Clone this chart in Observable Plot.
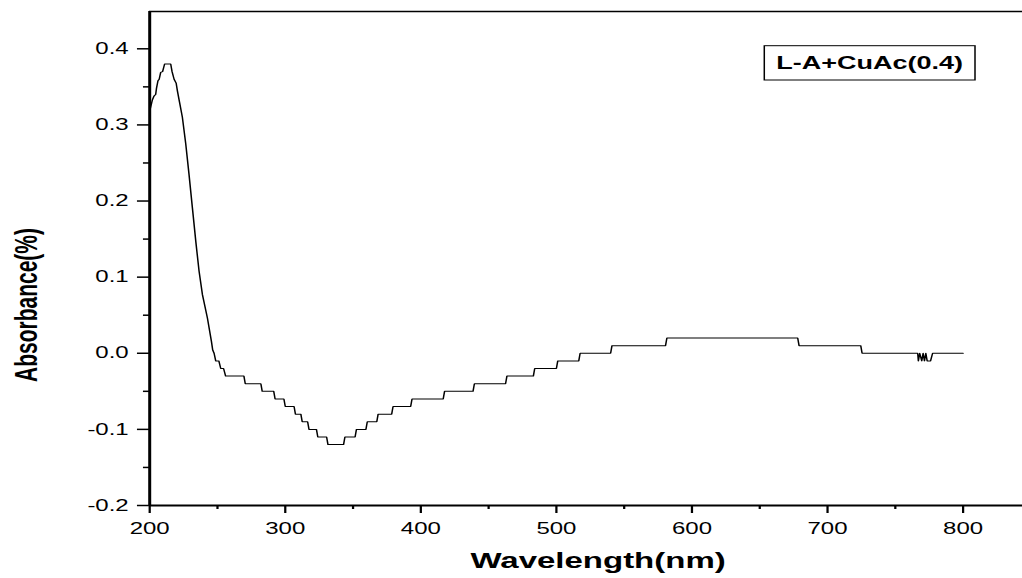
<!DOCTYPE html>
<html>
<head>
<meta charset="utf-8">
<script src="https://cdn.jsdelivr.net/npm/d3@7"></script>
<script src="https://cdn.jsdelivr.net/npm/@observablehq/plot@0.6"></script>
<style>
  html, body { margin: 0; padding: 0; background: white; }
  #chart svg { display: block; }
</style>
</head>
<body>
<div id="chart"></div>
<script>
// ---- data ----
const wavelength = [
  200, 202, 203.2, 204.4, 205, 206.1, 207, 208.1, 209.5, 211, 215.5, 216.5, 218, 219.5, 220.4, 222, 224.1,
  226.6, 229, 231.5, 234, 236.4, 238.9, 242.6, 245.5, 246.5, 247.5, 248.7, 251, 252.4, 254.5, 256,
  269.5, 270.5, 282, 283, 291.5, 292.5, 299, 300, 306.5, 307.5, 311.5, 312.5, 316.5, 317.5,
  323, 324, 330.5, 331.5, 343, 344, 351.5, 352.5, 359.5, 360.5, 367.5, 368.5, 378.5, 379.5,
  392.5, 393.5, 416.5, 417.5, 438.5, 439.5, 462.5, 463.5, 483, 484, 500, 501, 516.5, 517.5,
  540, 541, 580.5, 581.5, 678, 679, 724.5, 725.5, 766.5, 767, 768, 769.5, 770.5, 771.5, 772.5,
  773.5, 776, 777.5, 800
];
const absorbance = [
  0.318, 0.333, 0.338, 0.340, 0.348, 0.358, 0.360, 0.369, 0.370, 0.380, 0.380, 0.370, 0.360, 0.355, 0.345, 0.330, 0.310,
  0.275, 0.235, 0.191, 0.147, 0.108, 0.077, 0.046, 0.016, 0.004, 0.0, -0.01, -0.01, -0.02, -0.02, -0.03,
  -0.03, -0.04, -0.04, -0.05, -0.05, -0.06, -0.06, -0.07, -0.07, -0.08, -0.08, -0.09, -0.09, -0.10,
  -0.10, -0.11, -0.11, -0.12, -0.12, -0.11, -0.11, -0.10, -0.10, -0.09, -0.09, -0.08, -0.08, -0.07,
  -0.07, -0.06, -0.06, -0.05, -0.05, -0.04, -0.04, -0.03, -0.03, -0.02, -0.02, -0.01, -0.01, 0.0,
  0.0, 0.01, 0.01, 0.02, 0.02, 0.01, 0.01, 0.0, 0.0, -0.01, 0.0, -0.01, 0.0, -0.01, 0.0,
  -0.01, -0.01, 0.0, 0.0
];
const xMajorTicks = [200, 300, 400, 500, 600, 700, 800];
const xMinorTicks = [250, 350, 450, 550, 650, 750, 850];
const yMajorTicks = [-0.2, -0.1, 0.0, 0.1, 0.2, 0.3, 0.4];
const yMinorTicks = [-0.15, -0.05, 0.05, 0.15, 0.25, 0.35];
const xTitle = "Wavelength(nm)";
const yTitle = "Absorbance(%)";
const legendText = "L-A+CuAc(0.4)";

const rows = wavelength.map((w, i) => ({nm: w, abs: absorbance[i]}));

// ---- layout ----
const S = 1.5;                 // horizontal stretch of the reference picture
const W = 1022, H = 578;
const W0 = W / S;
const FONT = "'Liberation Sans', Arial, Helvetica, sans-serif";

const chart = Plot.plot({
  width: W0,
  height: H,
  marginLeft: 99.3,
  marginRight: 0,
  marginTop: 11,
  marginBottom: 73,
  style: {fontFamily: FONT, fontSize: "16px", color: "black", background: "white", overflow: "visible"},
  x: {domain: [200, 844], label: null},
  y: {domain: [-0.2, 0.449], label: null},
  marks: [
    Plot.axisX(xMajorTicks, {tickSize: 8, tickPadding: 9, strokeWidth: 1.5, fontSize: 16, tickFormat: d => String(d), label: null}),
    Plot.axisX(xMinorTicks, {tickSize: 4, strokeWidth: 1.5, tickFormat: () => "", label: null}),
    Plot.axisY(yMajorTicks, {tickSize: 8, tickPadding: 6, strokeWidth: 1.5, fontSize: 16, tickFormat: d => d.toFixed(1), label: null}),
    Plot.axisY(yMinorTicks, {tickSize: 4, strokeWidth: 1.5, tickFormat: () => "", label: null}),
    Plot.ruleY([0.449], {stroke: "black", strokeWidth: 1.5}),
    Plot.ruleX([200], {stroke: "black", strokeWidth: 2}),
    Plot.ruleY([-0.2], {stroke: "black", strokeWidth: 2}),
    Plot.line(rows, {x: "nm", y: "abs", stroke: "black", strokeWidth: 1})
  ]
});

// stretch the whole drawing horizontally like the reference picture
chart.setAttribute("width", W);
chart.setAttribute("height", H);
chart.setAttribute("preserveAspectRatio", "none");
chart.style.width = W + "px";
chart.style.height = H + "px";
chart.style.maxWidth = "none";

const svg = d3.select(chart);

// axis titles
svg.append("text")
  .attr("x", 398.7).attr("y", 568)
  .attr("text-anchor", "middle")
  .attr("font-family", FONT).attr("font-weight", "bold").attr("font-size", 22)
  .attr("fill", "black")
  .text(xTitle);

svg.append("text")
  .attr("transform", "translate(24.5,305) rotate(-90)")
  .attr("text-anchor", "middle")
  .attr("font-family", FONT).attr("font-weight", "bold").attr("font-size", 21)
  .attr("fill", "black")
  .text(yTitle);

// legend box
const boxRight = 650, boxTop = 45.7, boxH = 34.3;
const legend = svg.append("g");
const lt = legend.append("text")
  .attr("y", boxTop + boxH / 2 + 6.5)
  .attr("text-anchor", "end")
  .attr("x", boxRight - 8)
  .attr("font-family", FONT).attr("font-weight", "bold").attr("font-size", 18)
  .attr("fill", "black")
  .text(legendText);
document.getElementById("chart").appendChild(chart);
const tw = lt.node().getComputedTextLength();
legend.insert("rect", "text")
  .attr("x", boxRight - tw - 16).attr("y", boxTop)
  .attr("width", tw + 16).attr("height", boxH)
  .attr("fill", "white").attr("stroke", "black").attr("stroke-width", 1);
</script>
</body>
</html>
